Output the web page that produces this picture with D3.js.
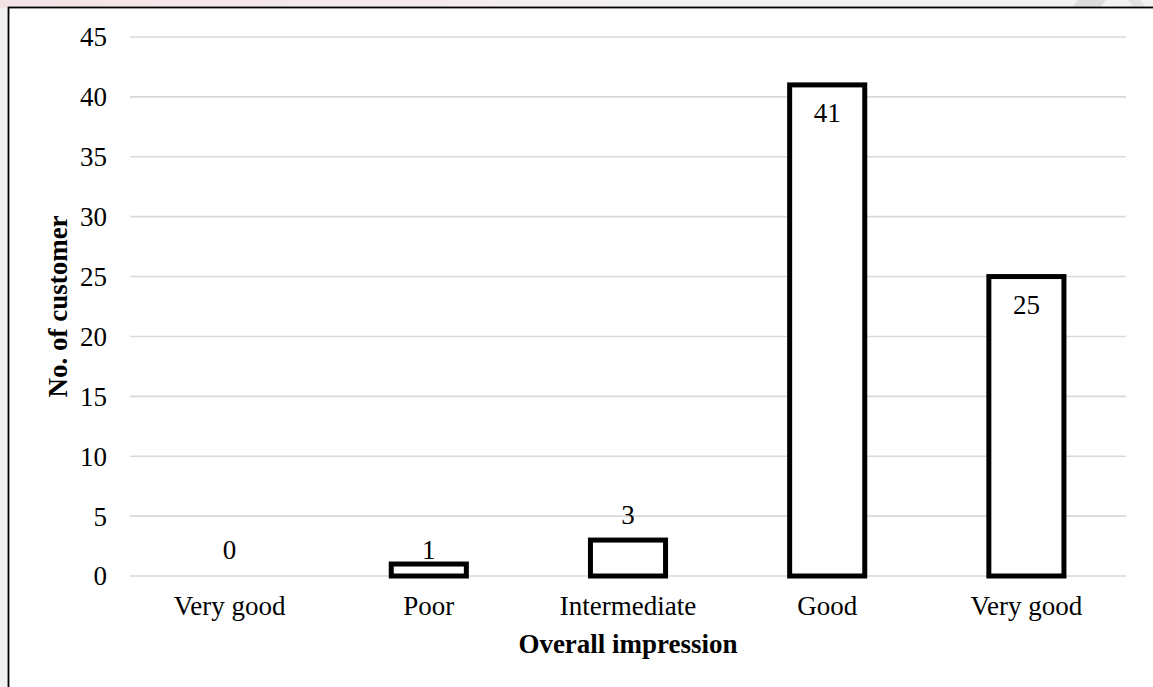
<!DOCTYPE html>
<html>
<head>
<meta charset="utf-8">
<script src="https://cdn.jsdelivr.net/npm/d3@7"></script>
<style>
  html, body { margin: 0; padding: 0; background: #f1f1f1; }
  svg { display: block; }
  text { font-family: "Liberation Serif", "Times New Roman", serif; fill: #000; }
</style>
</head>
<body>
<svg id="chart" width="1153" height="687"></svg>
<script>
// Survey results: overall impression ratings
const categories = ["Very good", "Poor", "Intermediate", "Good", "Very good "];
const customers = [0, 1, 3, 41, 25];
const labelPlacement = ["outside", "outside", "outside", "inside", "inside"];
const yTickValues = [0, 5, 10, 15, 20, 25, 30, 35, 40, 45];
const xTitle = "Overall impression";
const yTitle = "No. of customer";

const W = 1153, H = 687;
const FONT = 27;
const plot = { left: 130, right: 1126, top: 37, bottom: 576 };

const svg = d3.select("#chart");

// page backdrop with a soft tinted strip along the top edge
const defs = svg.append("defs");
const grad = defs.append("linearGradient").attr("id", "topStrip")
  .attr("x1", "0").attr("x2", "1").attr("y1", "0").attr("y2", "0");
grad.append("stop").attr("offset", "0").attr("stop-color", "#f4e3e6");
grad.append("stop").attr("offset", "0.35").attr("stop-color", "#f5eaec");
grad.append("stop").attr("offset", "0.6").attr("stop-color", "#f2f2f2");
grad.append("stop").attr("offset", "1").attr("stop-color", "#f2f2f2");
svg.append("rect").attr("x", 0).attr("y", 0).attr("width", W).attr("height", 8)
  .attr("fill", "url(#topStrip)");
svg.append("path").attr("d", "M1078,0 L1106,0 L1100,8 L1072,8 Z").attr("fill", "#dcdcdc");
svg.append("path").attr("d", "M1128,0 L1140,0 L1146,8 L1134,8 Z").attr("fill", "#e2e2e2");

// chart area
svg.append("rect")
  .attr("x", 8.5).attr("y", 7.5)
  .attr("width", W + 10).attr("height", H + 10)
  .attr("fill", "#fff")
  .attr("stroke", "#000").attr("stroke-width", 1.8);

const x = d3.scaleBand()
  .domain(categories)
  .range([plot.left, plot.right])
  .paddingInner(0.623)
  .paddingOuter(0.3115);

const y = d3.scaleLinear()
  .domain([0, 45])
  .range([plot.bottom, plot.top]);

// horizontal gridlines
svg.append("g")
  .selectAll("line")
  .data(yTickValues)
  .join("line")
  .attr("x1", plot.left).attr("x2", plot.right)
  .attr("y1", d => y(d)).attr("y2", d => y(d))
  .attr("stroke", "#d9d9d9").attr("stroke-width", 1.6);

// y axis labels
const yAxis = svg.append("g")
  .attr("transform", `translate(${plot.left},0)`)
  .call(d3.axisLeft(y).tickValues(yTickValues).tickSize(0).tickPadding(23));
yAxis.select(".domain").remove();
yAxis.selectAll("text")
  .attr("font-size", FONT)
  .attr("font-family", "Liberation Serif, Times New Roman, serif")
  .attr("fill", "#000")
  .attr("dy", "0.33em");

// x axis labels
const xAxis = svg.append("g")
  .attr("transform", `translate(0,${plot.bottom})`)
  .call(d3.axisBottom(x).tickSize(0).tickPadding(0));
xAxis.select(".domain").remove();
xAxis.selectAll("text")
  .attr("font-size", FONT)
  .attr("font-family", "Liberation Serif, Times New Roman, serif")
  .attr("fill", "#000")
  .attr("y", 39)
  .attr("dy", 0)
  .text(d => d.trim());

// outlined bars
svg.append("g")
  .selectAll("rect")
  .data(categories)
  .join("rect")
  .attr("x", d => x(d))
  .attr("width", x.bandwidth())
  .attr("y", (d, i) => y(customers[i]))
  .attr("height", (d, i) => y(0) - y(customers[i]))
  .attr("fill", "#fff")
  .attr("stroke", "#000")
  .attr("stroke-width", 5)
  .attr("visibility", (d, i) => customers[i] > 0 ? "visible" : "hidden");

// value labels: inside the top of tall bars, above short ones
svg.append("g")
  .selectAll("text")
  .data(categories)
  .join("text")
  .attr("x", d => x(d) + x.bandwidth() / 2)
  .attr("y", (d, i) => {
    const v = customers[i];
    if (labelPlacement[i] === "inside") return y(v) + 37.5;
    // very short bars share the label row just above the baseline
    return (v < 2 ? y(0) - 17 : y(v) - 16);
  })
  .attr("text-anchor", "middle")
  .attr("font-size", FONT)
  .text((d, i) => customers[i]);

// axis titles
svg.append("text")
  .attr("x", (plot.left + plot.right) / 2)
  .attr("y", 653)
  .attr("text-anchor", "middle")
  .attr("font-size", FONT)
  .attr("font-weight", "bold")
  .text(xTitle);

svg.append("text")
  .attr("transform", `translate(67,${(plot.top + plot.bottom) / 2}) rotate(-90)`)
  .attr("text-anchor", "middle")
  .attr("font-size", FONT)
  .attr("font-weight", "bold")
  .text(yTitle);
</script>
</body>
</html>
